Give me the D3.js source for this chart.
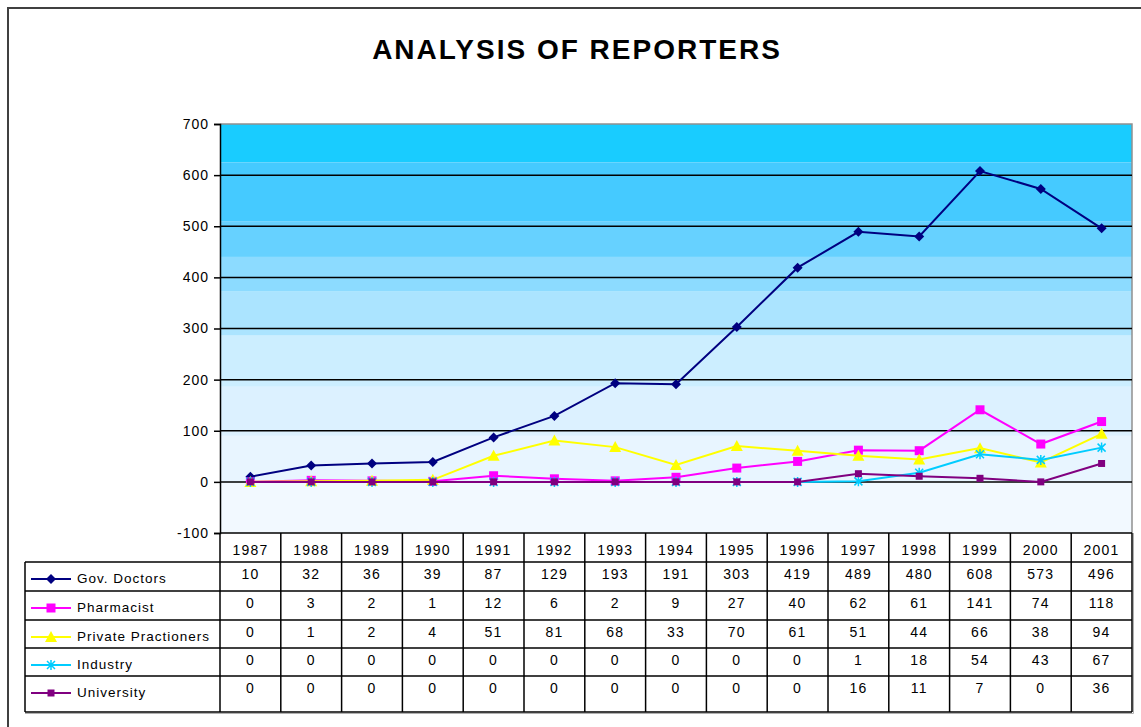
<!DOCTYPE html>
<html>
<head>
  <script src="https://d3js.org/d3.v7.min.js"></script>
  <style>
    body { margin: 0; background: #fff; }
    svg { display: block; font-family: "Liberation Sans", Arial, sans-serif; }
    .grid line { stroke: #000; stroke-width: 1.5px; }
    .cell-line { stroke: #000; stroke-width: 1.5px; }
    .tbl-text { font-size: 14px; letter-spacing: 1.2px; fill: #000; }
    .leg-text { font-size: 13.5px; letter-spacing: 1px; fill: #000; }
  </style>
</head>
<body>
  <div id="chart"></div>
  <script>
    // Data
    const years = ["1987", "1988", "1989", "1990", "1991", "1992", "1993", "1994",
                   "1995", "1996", "1997", "1998", "1999", "2000", "2001"];
    const govDoctors = [10, 32, 36, 39, 87, 129, 193, 191, 303, 419, 489, 480, 608, 573, 496];
    const pharmacist = [0, 3, 2, 1, 12, 6, 2, 9, 27, 40, 62, 61, 141, 74, 118];
    const privatePractioners = [0, 1, 2, 4, 51, 81, 68, 33, 70, 61, 51, 44, 66, 38, 94];
    const industry = [0, 0, 0, 0, 0, 0, 0, 0, 0, 0, 1, 18, 54, 43, 67];
    const university = [0, 0, 0, 0, 0, 0, 0, 0, 0, 0, 16, 11, 7, 0, 36];
    const seriesNames = ["Gov. Doctors", "Pharmacist", "Private Practioners", "Industry", "University"];
    const yTicks = [-100, 0, 100, 200, 300, 400, 500, 600, 700];

    const seriesValues = [govDoctors, pharmacist, privatePractioners, industry, university];
    const colors = ["#000080", "#ff00ff", "#ffff00", "#00ccff", "#800080"];
    const markers = ["diamond", "square", "triangle", "star", "smallsquare"];

    const W = 1141, H = 727;
    const plot = { left: 220, right: 1132, top: 124, bottom: 533 };
    const rowLines = [562, 591, 620, 648, 676, 712];
    const legendLeft = 25;

    const svg = d3.select("#chart").append("svg")
      .attr("width", W).attr("height", H);

    // outer frame
    svg.append("rect")
      .attr("x", 8).attr("y", 8)
      .attr("width", W + 20).attr("height", H + 20)
      .attr("fill", "#fff")
      .attr("stroke", "#404040").attr("stroke-width", 2);

    // title
    svg.append("text")
      .attr("x", 577).attr("y", 59)
      .attr("text-anchor", "middle")
      .style("font-size", "28px")
      .style("font-weight", "bold")
      .style("letter-spacing", "2px")
      .text("ANALYSIS OF REPORTERS");

    // scales
    const x = d3.scaleBand().domain(years).range([plot.left, plot.right]);
    const y = d3.scaleLinear().domain([-100, 700]).range([plot.bottom, plot.top]);

    // banded background
    const bands = [
      { from: 700, to: 625, color: "#19ccff" },
      { from: 625, to: 510, color: "#45caff" },
      { from: 510, to: 440, color: "#66d1ff" },
      { from: 440, to: 372, color: "#8cdbff" },
      { from: 372, to: 286, color: "#abe4ff" },
      { from: 286, to: 186, color: "#cceeff" },
      { from: 186, to: 90, color: "#dcf1ff" },
      { from: 90, to: 0, color: "#e8f5ff" },
      { from: 0, to: -100, color: "#f2f9ff" }
    ];
    svg.append("g").selectAll("rect").data(bands).join("rect")
      .attr("x", plot.left)
      .attr("y", d => y(d.from))
      .attr("width", plot.right - plot.left)
      .attr("height", d => y(d.to) - y(d.from))
      .attr("fill", d => d.color);

    // plot border (gray)
    svg.append("path")
      .attr("d", `M${plot.left},${plot.top}H${plot.right}V${plot.bottom}`)
      .attr("fill", "none").attr("stroke", "#909090").attr("stroke-width", 1.5);

    // gridlines
    svg.append("g").attr("class", "grid")
      .selectAll("line").data(yTicks.filter(t => t > -100 && t < 700)).join("line")
      .attr("x1", plot.left).attr("x2", plot.right)
      .attr("y1", d => y(d)).attr("y2", d => y(d));

    // y axis
    const yAxis = d3.axisLeft(y).tickValues(yTicks).tickSize(6).tickPadding(5)
      .tickFormat(d => String(d));
    const yg = svg.append("g")
      .attr("transform", `translate(${plot.left},0)`)
      .call(yAxis);
    yg.select(".domain").attr("stroke", "#000").attr("stroke-width", 1.5);
    yg.selectAll(".tick line").attr("stroke", "#000").attr("stroke-width", 1.5);
    yg.selectAll("text")
      .style("font-size", "14px")
      .style("letter-spacing", "1px")
      .style("font-family", "'Liberation Sans', Arial, sans-serif")
      .attr("fill", "#000");

    // marker shapes
    function markerPath(type) {
      switch (type) {
        case "diamond": return "M0,-5L5,0L0,5L-5,0Z";
        case "square": return "M-4.5,-4.5H4.5V4.5H-4.5Z";
        case "triangle": return "M0,-6L6,5H-6Z";
        case "smallsquare": return "M-3.5,-3.5H3.5V3.5H-3.5Z";
        default: return "";
      }
    }
    function drawMarker(g, type, color) {
      if (type === "star") {
        g.append("path")
          .attr("d", "M-4,-4L4,4M-4,4L4,-4M0,-5V5")
          .attr("stroke", color).attr("stroke-width", 1.5).attr("fill", "none");
      } else {
        g.append("path").attr("d", markerPath(type)).attr("fill", color);
      }
    }

    // lines
    const line = d3.line()
      .x((d, i) => x(years[i]) + x.bandwidth() / 2)
      .y(d => y(d));

    seriesValues.forEach((vals, s) => {
      const g = svg.append("g");
      g.append("path")
        .datum(vals)
        .attr("d", line)
        .attr("fill", "none")
        .attr("stroke", colors[s])
        .attr("stroke-width", 2);
      vals.forEach((v, i) => {
        const m = g.append("g")
          .attr("transform", `translate(${x(years[i]) + x.bandwidth() / 2},${y(v)})`);
        drawMarker(m, markers[s], colors[s]);
      });
    });

    // data table
    const tbl = svg.append("g");
    tbl.append("line").attr("class", "cell-line")
      .attr("x1", plot.left).attr("x2", plot.right)
      .attr("y1", plot.bottom).attr("y2", plot.bottom);
    rowLines.forEach(ry => {
      tbl.append("line").attr("class", "cell-line")
        .attr("x1", legendLeft).attr("x2", plot.right)
        .attr("y1", ry).attr("y2", ry);
    });
    years.forEach(yr => {
      tbl.append("line").attr("class", "cell-line")
        .attr("x1", x(yr)).attr("x2", x(yr))
        .attr("y1", plot.bottom).attr("y2", rowLines[rowLines.length - 1]);
    });
    tbl.append("line").attr("class", "cell-line")
      .attr("x1", plot.right).attr("x2", plot.right)
      .attr("y1", plot.bottom).attr("y2", rowLines[rowLines.length - 1]);
    tbl.append("line").attr("class", "cell-line")
      .attr("x1", legendLeft).attr("x2", legendLeft)
      .attr("y1", rowLines[0]).attr("y2", rowLines[rowLines.length - 1]);
    // soft shadow at right/bottom
    tbl.append("path")
      .attr("d", `M${plot.right + 1.5},${plot.bottom}V${rowLines[5] + 1.5}H${legendLeft}`)
      .attr("fill", "none").attr("stroke", "#b0b0b0").attr("stroke-width", 1);

    // header years
    tbl.selectAll(".yr").data(years).join("text")
      .attr("class", "tbl-text")
      .attr("x", d => x(d) + x.bandwidth() / 2)
      .attr("y", 555)
      .attr("text-anchor", "middle")
      .text(d => d);

    // rows
    seriesValues.forEach((vals, s) => {
      const top = rowLines[s];
      tbl.selectAll(null).data(vals).join("text")
        .attr("class", "tbl-text")
        .attr("x", (d, i) => x(years[i]) + x.bandwidth() / 2)
        .attr("y", top + 17)
        .attr("text-anchor", "middle")
        .text(d => d);

      // legend key
      const ky = top + 17;
      const lg = tbl.append("g");
      lg.append("line")
        .attr("x1", 31).attr("x2", 71)
        .attr("y1", ky).attr("y2", ky)
        .attr("stroke", colors[s]).attr("stroke-width", 2);
      const m = lg.append("g").attr("transform", `translate(51,${ky})`);
      drawMarker(m, markers[s], colors[s]);
      lg.append("text")
        .attr("class", "leg-text")
        .attr("x", 77).attr("y", top + 21)
        .text(seriesNames[s]);
    });
  </script>
</body>
</html>
